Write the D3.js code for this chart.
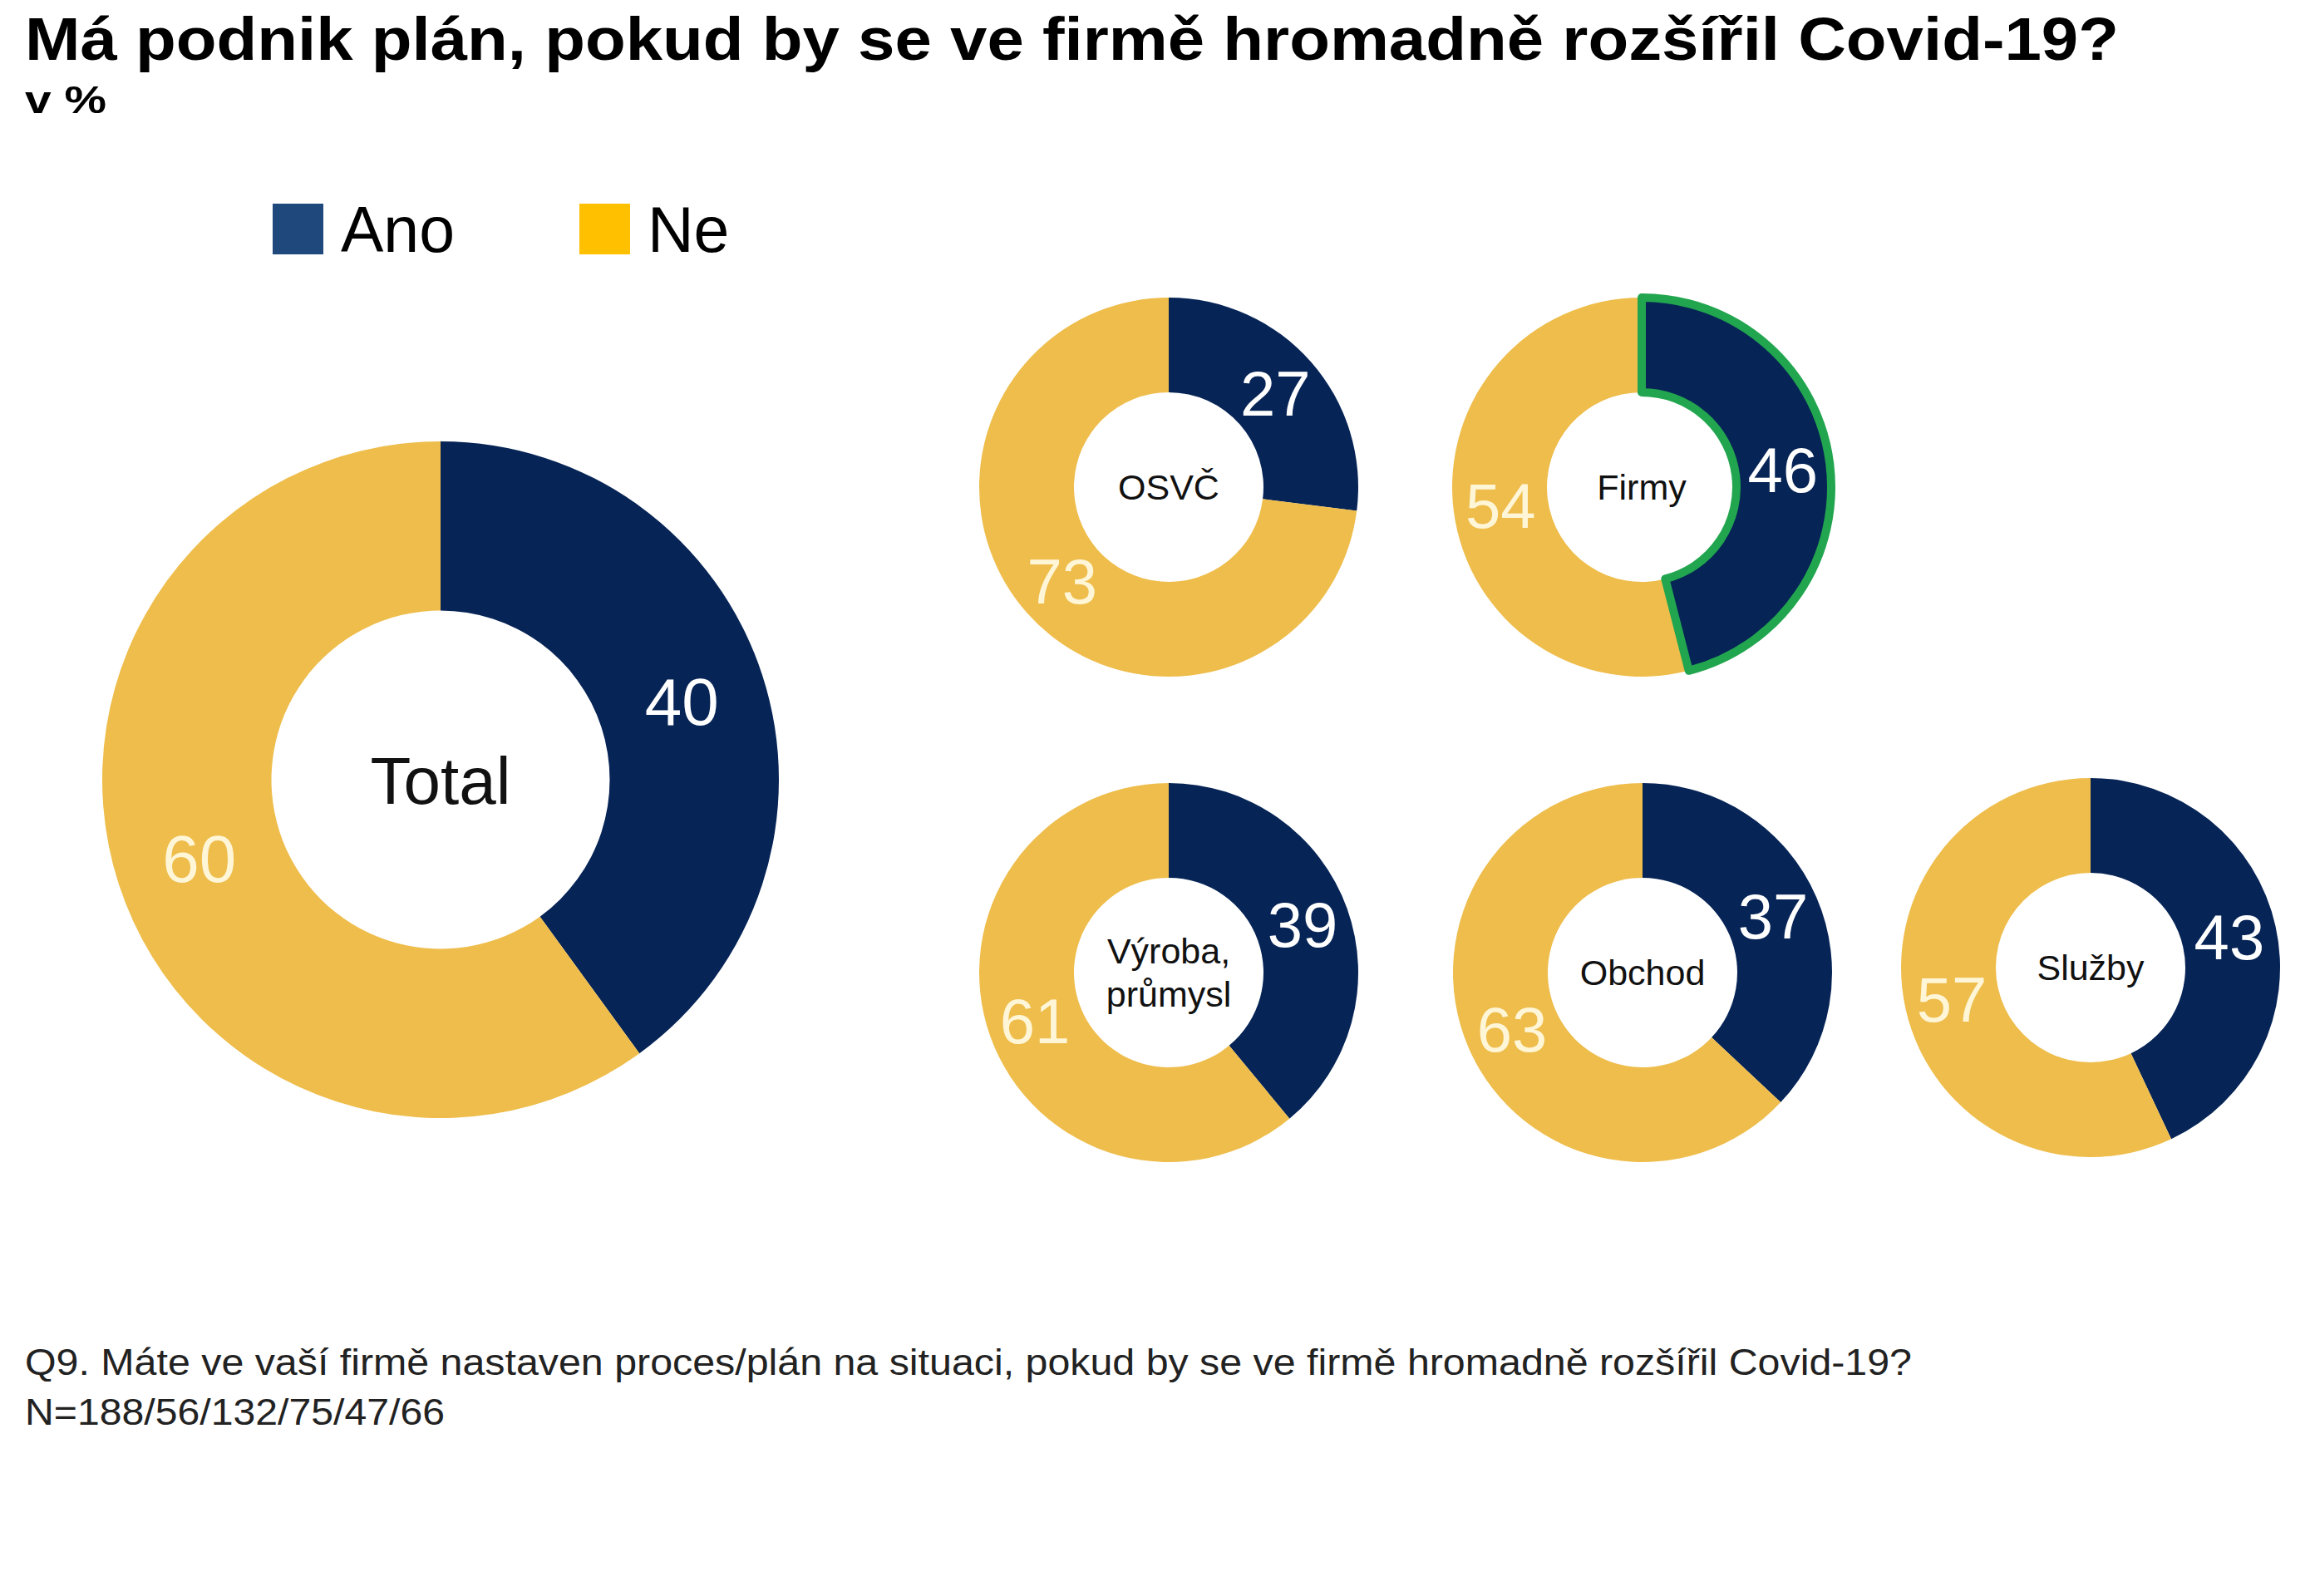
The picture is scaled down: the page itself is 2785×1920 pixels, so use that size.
<!DOCTYPE html>
<html>
<head>
<meta charset="utf-8">
<script src="https://cdn.jsdelivr.net/npm/d3@7"></script>
<style>
  body { margin: 0; background: #fff; }
  text { font-family: "Liberation Sans", Arial, sans-serif; }
</style>
</head>
<body>
<div id="chart"></div>
<script>
// Data
const groups = ["Total", "OSVČ", "Firmy", "Výroba, průmysl", "Obchod", "Služby"];
const ano = [40, 27, 46, 39, 37, 43];
const ne = [60, 73, 54, 61, 63, 57];
const series = ["Ano", "Ne"];
const sampleSizes = [188, 56, 132, 75, 47, 66];

const width = 2785, height = 1920;

const svg = d3.select("#chart")
    .append("svg")
    .attr("width", width)
    .attr("height", height);

// Colours
const color = d3.scaleOrdinal().domain(series).range(["#062456", "#eebd4b"]);
const legendColor = d3.scaleOrdinal().domain(series).range(["#1f497d", "#ffc000"]);
const labelColor = d3.scaleOrdinal().domain(series).range(["#ffffff", "#fff6d8"]);

// Donut placement (layout only)
const layout = {
    "Total":           {cx: 530,  cy: 938,  r: 407, big: true},
    "OSVČ":            {cx: 1406, cy: 586,  r: 228},
    "Firmy":           {cx: 1975, cy: 586,  r: 228, highlight: true},
    "Výroba, průmysl": {cx: 1406, cy: 1170, r: 228},
    "Obchod":          {cx: 1976, cy: 1170, r: 228},
    "Služby":          {cx: 2515, cy: 1164, r: 228}
};

const pie = d3.pie().sort(null).value(d => d.value);

groups.forEach((g, i) => {
    const L = layout[g];
    const vals = [{key: "Ano", value: ano[i]}, {key: "Ne", value: ne[i]}];
    const arc = d3.arc().innerRadius(L.r * 0.5).outerRadius(L.r);
    const gEl = svg.append("g").attr("transform", `translate(${L.cx},${L.cy})`);

    const slices = pie(vals);

    gEl.selectAll("path")
       .data(slices)
       .enter()
       .append("path")
       .attr("d", arc)
       .attr("fill", d => color(d.data.key));

    // green outline on the highlighted Ano slice
    if (L.highlight) {
        gEl.append("path")
           .attr("d", arc(slices[0]))
           .attr("fill", "none")
           .attr("stroke", "#22a54f")
           .attr("stroke-width", 10)
           .attr("stroke-linejoin", "round");
    }

    // value labels
    gEl.selectAll("text.val")
       .data(slices)
       .enter()
       .append("text")
       .attr("class", "val")
       .attr("transform", d => `translate(${arc.centroid(d)})`)
       .attr("text-anchor", "middle")
       .attr("dy", "0.36em")
       .attr("fill", d => labelColor(d.data.key))
       .style("font-size", L.big ? "80px" : "76px")
       .text(d => d.data.value);

    // centre label
    const lines = g.split(" ");
    const fs = L.big ? 80 : 43;
    const lh = 52;
    const t = gEl.append("text")
       .attr("text-anchor", "middle")
       .attr("fill", "#111")
       .style("font-size", fs + "px");
    lines.forEach((ln, j) => {
        t.append("tspan")
         .attr("x", 0)
         .attr("y", (j - (lines.length - 1) / 2) * lh)
         .attr("dy", "0.36em")
         .text(ln);
    });
});

// Title
svg.append("text")
   .attr("x", 30)
   .attr("y", 72)
   .style("font-size", "72px")
   .style("font-weight", "bold")
   .attr("fill", "#000")
   .attr("textLength", 2519)
   .attr("lengthAdjust", "spacingAndGlyphs")
   .text("Má podnik plán, pokud by se ve firmě hromadně rozšířil Covid-19?");

svg.append("text")
   .attr("x", 30)
   .attr("y", 136)
   .style("font-size", "46px")
   .style("font-weight", "bold")
   .attr("fill", "#000")
   .attr("textLength", 98)
   .attr("lengthAdjust", "spacingAndGlyphs")
   .text("v %");

// Legend
const legend = svg.append("g")
    .selectAll("g")
    .data(series)
    .enter()
    .append("g")
    .attr("transform", (d, i) => `translate(${328 + i * 369}, 245)`);

legend.append("rect")
      .attr("width", 61)
      .attr("height", 61)
      .attr("fill", d => legendColor(d));

legend.append("text")
      .attr("x", 82)
      .attr("y", 58)
      .style("font-size", "77px")
      .attr("fill", "#000")
      .text(d => d);

// Footer
svg.append("text")
   .attr("x", 30)
   .attr("y", 1654)
   .style("font-size", "45px")
   .attr("fill", "#222")
   .attr("textLength", 2270)
   .attr("lengthAdjust", "spacingAndGlyphs")
   .text("Q9. Máte ve vaší firmě nastaven proces/plán na situaci, pokud by se ve firmě hromadně rozšířil Covid-19?");

svg.append("text")
   .attr("x", 30)
   .attr("y", 1714)
   .style("font-size", "45px")
   .attr("fill", "#222")
   .attr("textLength", 505)
   .attr("lengthAdjust", "spacingAndGlyphs")
   .text("N=" + sampleSizes.join("/"));
</script>
</body>
</html>
